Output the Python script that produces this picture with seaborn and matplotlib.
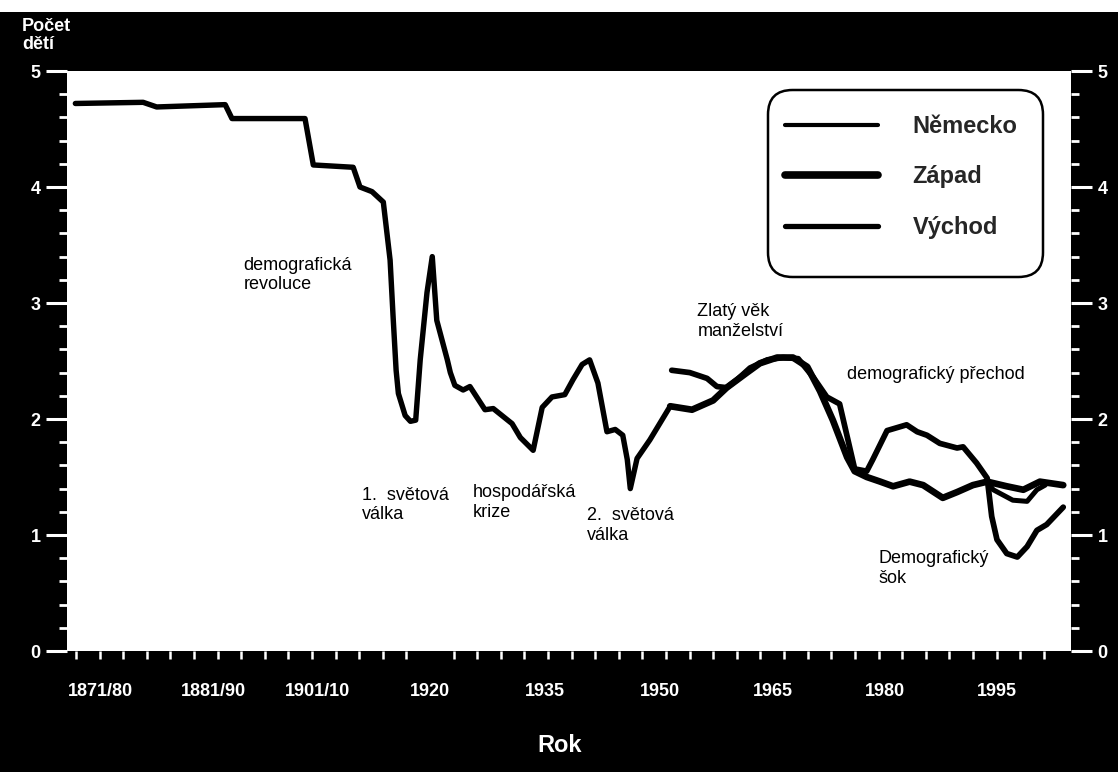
import matplotlib
matplotlib.use("Agg")
import matplotlib.pyplot as plt
from matplotlib.patches import FancyBboxPatch, Rectangle
from matplotlib.ticker import FixedLocator, MultipleLocator
import numpy as np
import pandas as pd
import seaborn as sns

# Germany as a whole (until ~1950, then again after reunification)
GER_YEAR = [1872.9, 1881.9, 1883.7, 1892.8, 1893.7, 1903.4, 1904.5, 1909.8, 1910.7, 1912.3,
            1913.8, 1914.7, 1915.1, 1915.5, 1915.8, 1916.7, 1917.4, 1918.1, 1918.7, 1919.6,
            1920.3, 1920.9, 1921.6, 1922.3, 1922.7, 1923.3, 1924.4, 1925.3, 1927.3, 1928.4,
            1930.9, 1932.0, 1933.7, 1934.9, 1936.2, 1937.9, 1939.0, 1940.2, 1941.2, 1942.3,
            1943.5, 1944.6, 1945.6, 1946.2, 1946.6, 1947.5, 1949.2, 1951.9]
GER_TFR = [4.72, 4.73, 4.69, 4.71, 4.59, 4.59, 4.19, 4.17, 4.00, 3.96,
           3.87, 3.37, 2.88, 2.42, 2.22, 2.03, 1.98, 1.99, 2.51, 3.09,
           3.40, 2.85, 2.68, 2.51, 2.40, 2.29, 2.25, 2.28, 2.08, 2.09,
           1.96, 1.84, 1.73, 2.10, 2.19, 2.21, 2.34, 2.47, 2.51, 2.31,
           1.89, 1.91, 1.86, 1.65, 1.40, 1.66, 1.82, 2.11]
GER_LATE_YEAR = [1994.0, 1994.8, 1997.4, 1999.3, 2000.6, 2001.7]
GER_LATE_TFR = [1.46, 1.39, 1.30, 1.29, 1.39, 1.43]

WEST_YEAR = [1951.9, 1954.8, 1957.6, 1959.4, 1962.1, 1963.8, 1966.1, 1968.2, 1970.1, 1971.8,
             1973.5, 1975.4, 1976.4, 1978.0, 1979.8, 1981.5, 1983.7, 1985.5, 1988.1, 1990.0,
             1992.1, 1994.0, 1996.6, 1998.8, 2001.0, 2004.1]
WEST_TFR = [2.11, 2.08, 2.16, 2.27, 2.40, 2.48, 2.53, 2.53, 2.45, 2.24,
            1.99, 1.67, 1.55, 1.50, 1.46, 1.42, 1.46, 1.43, 1.32, 1.37,
            1.43, 1.46, 1.42, 1.39, 1.46, 1.43]

EAST_YEAR = [1952.1, 1954.5, 1956.8, 1958.1, 1959.4, 1960.8, 1962.5, 1964.8, 1966.9, 1968.9,
             1970.9, 1972.7, 1974.4, 1975.4, 1976.4, 1978.0, 1978.8, 1980.7, 1983.3, 1984.7,
             1986.0, 1987.7, 1990.0, 1990.8, 1992.6, 1994.0, 1994.6, 1995.3, 1996.6, 1998.0,
             1999.3, 2000.6, 2001.9, 2004.1]
EAST_TFR = [2.42, 2.40, 2.35, 2.28, 2.27, 2.34, 2.44, 2.51, 2.53, 2.52,
            2.36, 2.19, 2.13, 1.85, 1.57, 1.55, 1.65, 1.90, 1.95, 1.89,
            1.86, 1.79, 1.75, 1.76, 1.62, 1.49, 1.16, 0.96, 0.84, 0.81,
            0.90, 1.04, 1.09, 1.24]

SERIES = ["Německo", "Západ", "Východ"]

X_LABELS = ["1871/80", "1881/90", "1901/10", "1920", "1935", "1950", "1965", "1980", "1995"]
X_LABEL_POS = [1876.2, 1891.2, 1905.1, 1920.0, 1935.3, 1950.5, 1965.6, 1980.4, 1995.3]

NOTES = [
    ("demografická\nrevoluce", 1895.2, 3.24),
    ("1.  světová\nválka", 1911.0, 1.26),
    ("hospodářská\nkrize", 1925.7, 1.28),
    ("2.  světová\nválka", 1940.8, 1.08),
    ("Zlatý věk\nmanželství", 1955.5, 2.84),
    ("demografický přechod", 1975.4, 2.38),
    ("Demografický\nšok", 1979.5, 0.71),
]

sns.set_theme(style="white")
plt.rcParams["font.family"] = ["Liberation Sans", "DejaVu Sans"]

W, H = 1118, 772
fig = plt.figure(figsize=(W / 100, H / 100), dpi=100, facecolor="black")
fig.patches.append(Rectangle((0, 1 - 12 / H), 1, 12 / H, transform=fig.transFigure,
                             facecolor="white", edgecolor="none"))
ax = fig.add_axes([67 / W, 1 - 651 / H, (1071 - 67) / W, (651 - 71) / H])
ax.set_facecolor("white")

line_kw = dict(color="black", solid_capstyle="round", solid_joinstyle="round")
ger = pd.DataFrame({"rok": GER_YEAR, "tfr": GER_TFR})
ger_late = pd.DataFrame({"rok": GER_LATE_YEAR, "tfr": GER_LATE_TFR})
west = pd.DataFrame({"rok": WEST_YEAR, "tfr": WEST_TFR})
east = pd.DataFrame({"rok": EAST_YEAR, "tfr": EAST_TFR})

sns.lineplot(data=ger, x="rok", y="tfr", ax=ax, lw=3.9, label="_ger", **line_kw)
sns.lineplot(data=east, x="rok", y="tfr", ax=ax, lw=4.1, label="_east", **line_kw)
sns.lineplot(data=west, x="rok", y="tfr", ax=ax, lw=4.8, label="_west", **line_kw)
sns.lineplot(data=ger_late, x="rok", y="tfr", ax=ax, lw=3.6, label="_ger_late", **line_kw)

ax.set_xlim(1871.79, 2005.13)
ax.set_ylim(0, 5)
for s in ax.spines.values():
    s.set_visible(False)

# x axis: labels without marks, small marks every ~3 years
ax.xaxis.set_major_locator(FixedLocator(X_LABEL_POS))
ax.set_xticklabels(X_LABELS)
ax.xaxis.set_minor_locator(FixedLocator(np.arange(1920 - 15 * 3.135, 2003, 3.135)))
ax.tick_params(axis="x", which="major", length=0, pad=23, labelsize=13, labelcolor="white",
               bottom=True)
ax.tick_params(axis="x", which="minor", length=6, width=1.8, color="white", direction="out",
               bottom=True)
for lab in ax.get_xticklabels():
    lab.set_fontweight("bold")

# y axis on both sides
ax.set_yticks(range(0, 6))
ax.yaxis.set_minor_locator(MultipleLocator(0.2))
ax.tick_params(axis="y", which="major", length=15, width=2.2, color="white", direction="out",
               left=True, right=True, labelleft=True, labelright=True, pad=4,
               labelsize=13, labelcolor="white")
ax.tick_params(axis="y", which="minor", length=5.5, width=2.0, color="white", direction="out",
               left=True, right=True)
for lab in ax.get_yticklabels():
    lab.set_fontweight("bold")

ax.set_xlabel("")
ax.set_ylabel("")
fig.text(22 / W, 1 - 18 / H, "Počet\ndětí", color="white", fontsize=13, fontweight="bold",
         va="top", ha="left", linespacing=1.05)
fig.text(560 / W, 1 - 745 / H, "Rok", color="white", fontsize=17, fontweight="bold",
         va="center", ha="center")

for txt, x, y in NOTES:
    ax.text(x, y, txt, fontsize=13, color="black", ha="left", va="center", linespacing=1.2)

# legend: rounded box drawn separately, entries without frame
box = FancyBboxPatch((768 / W, 1 - 277 / H), (1043 - 768) / W, (277 - 90) / H,
                     boxstyle="round,pad=0,rounding_size=0.022", transform=fig.transFigure,
                     facecolor="white", edgecolor="black", linewidth=1.8, zorder=4,
                     mutation_aspect=W / H, clip_on=False)
ax.add_artist(box)

handles = [
    plt.Line2D([], [], lw=3.0, **line_kw),
    plt.Line2D([], [], lw=5.5, **line_kw),
    plt.Line2D([], [], lw=3.8, **line_kw),
]
leg = ax.legend(handles, SERIES, loc="upper left",
                bbox_to_anchor=((785 - 67) / 1004, (651 - 115) / 580), borderaxespad=0,
                borderpad=0, prop={"weight": "bold", "size": 17}, handlelength=3.95,
                handletextpad=1.45, labelspacing=1.16, frameon=False)
leg.set_zorder(6)

fig.savefig("out.png", dpi=100, facecolor="black")
